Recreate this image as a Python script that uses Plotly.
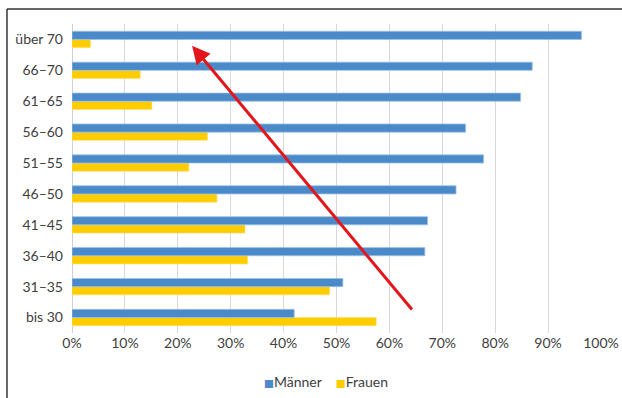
import plotly.graph_objects as go

categories = ["bis 30", "31–35", "36–40", "41–45", "46–50", "51–55", "56–60", "61–65", "66–70", "über 70"]
maenner = [42.0, 51.2, 66.7, 67.2, 72.6, 77.8, 74.4, 84.8, 87.0, 96.3]
frauen = [57.5, 48.7, 33.2, 32.7, 27.4, 22.1, 25.6, 15.1, 12.9, 3.5]
x_ticks = [0, 10, 20, 30, 40, 50, 60, 70, 80, 90, 100]
x_ticktext = [f"{v}%" for v in x_ticks]
series_names = ["Männer", "Frauen"]
series_colors = ["#4a8ac9", "#ffcc00"]

FONT = "Lato, Open Sans, sans-serif"
TXT = "#404040"

fig = go.Figure()
fig.add_trace(go.Bar(y=categories, x=frauen, orientation="h", name=series_names[1], showlegend=False,
                     marker=dict(color=series_colors[1], line=dict(color="#ffe066", width=0.6))))
fig.add_trace(go.Bar(y=categories, x=maenner, orientation="h", name=series_names[0], showlegend=False,
                     marker=dict(color=series_colors[0], line=dict(color="#9cc2e8", width=0.8))))

fig.update_layout(
    width=622, height=398,
    margin=dict(l=72, r=21, t=24, b=65, autoexpand=False),
    paper_bgcolor="white", plot_bgcolor="white",
    barmode="group", bargap=0.47, bargroupgap=0,
    font=dict(family=FONT, size=14, color=TXT),
    showlegend=False,
    xaxis=dict(range=[0, 100], tickvals=x_ticks, ticktext=x_ticktext, showgrid=True,
               gridcolor="#d9d9d9", gridwidth=1, zeroline=False, showline=False,
               ticks="", tickfont=dict(size=14, color=TXT), fixedrange=True),
    yaxis=dict(categoryorder="array", categoryarray=categories, showgrid=False,
               zeroline=False, showline=False, ticks="", ticklabelstandoff=8,
               tickfont=dict(size=14, color=TXT)),
)

# legend drawn as text with coloured squares
legend_html = "&nbsp;&nbsp;&nbsp;&nbsp;".join(
    f'<span style="color:{c};font-size:10.5px;font-family:DejaVu Sans">■</span>{n}'
    for n, c in zip(series_names, series_colors))
fig.add_annotation(xref="paper", yref="paper", x=(326 - 72) / 529, y=(333 - 381) / 309,
                   xanchor="center", yanchor="middle", showarrow=False, text=legend_html,
                   font=dict(size=14, color=TXT))

# zero axis line (thicker light gray)
fig.add_shape(type="line", xref="x", yref="paper", x0=0, x1=0, y0=0, y1=1,
              line=dict(color="#d0d0d0", width=2), layer="below")

# frame lines (top and left)
fig.add_shape(type="line", xref="paper", yref="paper", x0=-0.1229, x1=1.05, y0=1.0485, y1=1.0485,
              line=dict(color="#333333", width=1.5))
fig.add_shape(type="line", xref="paper", yref="paper", x0=-0.1229, x1=-0.1229, y0=1.0485, y1=-0.22,
              line=dict(color="#333333", width=1.5))

# red arrow
fig.add_annotation(x=22.7, y=8.8, xref="x", yref="y", ax=64.5, ay=0.21, axref="x", ayref="y",
                   text="", showarrow=True, arrowhead=2, arrowsize=1.2, arrowwidth=3,
                   arrowcolor="#e3171b")

fig.write_html("out.html")
